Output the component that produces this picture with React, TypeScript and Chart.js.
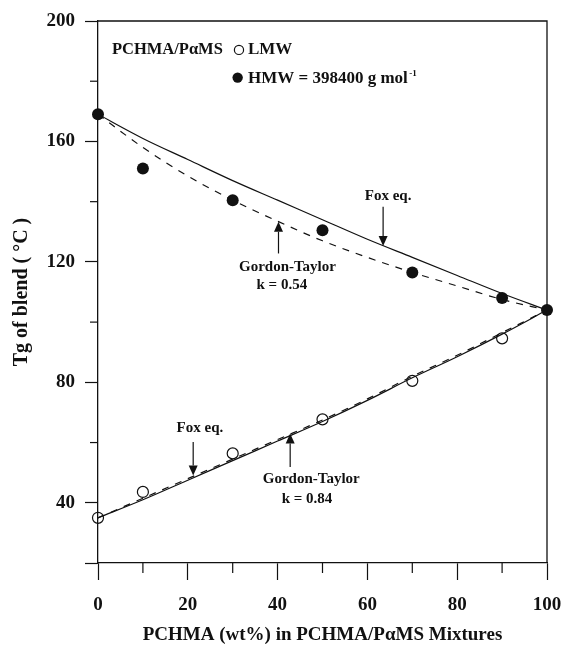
import React, { useEffect, useRef } from "react";
import { Chart, registerables } from "chart.js";

Chart.register(...registerables);

const SERIF = "'Liberation Serif', 'Times New Roman', serif";
const INK = "#111111";

// ---- measured Tg values (wt% PCHMA vs Tg, °C) ----
const compHMW = [0, 10, 30, 50, 70, 90, 100];
const tgHMW = [169, 151, 140.5, 130.5, 116.5, 108, 104];
const compLMW = [0, 10, 30, 50, 70, 90];
const tgLMW = [35, 43.6, 56.4, 67.7, 80.5, 94.6];

// ---- model curves ----
const curveComp = [0, 10, 20, 30, 40, 50, 60, 70, 80, 90, 100];
const foxHMW = [169, 161, 154, 147, 140.5, 134, 127.5, 121.5, 115.5, 109.5, 104];
const gtHMW = [169, 158, 148.5, 140.5, 133.5, 127, 121.5, 116.5, 112, 107.5, 104];
const foxLMW = [35, 41, 47.5, 54, 60.5, 67, 74, 81.5, 88.5, 96, 104];
const gtLMW = [35, 41.5, 48, 54.5, 61, 67.5, 74.5, 82, 89, 96.5, 104];

// ---- axes ----
const xMin = 0;
const xMax = 100;
const xMajor = 20;
const xMinor = 10;
const yMin = 20;
const yMax = 200;
const yMajor = 40;
const yMinor = 20;

const xTitle = "PCHMA (wt%) in PCHMA/P\u03B1MS Mixtures";
const yTitle = "Tg of blend ( \u00B0C )";

// ---- in-plot annotations (data coordinates) ----
const labels = [
  { text: "Fox eq.", x: 64.6, y: 140.5, align: "center" as CanvasTextAlign },
  { text: "Gordon-Taylor", x: 31.4, y: 117.0, align: "left" as CanvasTextAlign },
  { text: "k = 0.54", x: 35.3, y: 111.0, align: "left" as CanvasTextAlign },
  { text: "Fox eq.", x: 17.5, y: 63.5, align: "left" as CanvasTextAlign },
  { text: "Gordon-Taylor", x: 36.7, y: 46.5, align: "left" as CanvasTextAlign },
  { text: "k = 0.84", x: 40.9, y: 39.9, align: "left" as CanvasTextAlign },
];
const arrows = [
  { x: 63.5, from: 138.3, to: 125.3 },
  { x: 40.2, from: 122.8, to: 133.3 },
  { x: 21.2, from: 60.2, to: 49.1 },
  { x: 42.8, from: 51.9, to: 63.0 },
];
const keyTitle = { text: "PCHMA/P\u03B1MS", x: 3.1, y: 189.0 };
const keyRows = [
  { filled: false, text: "LMW", sup: "", cx: 31.4, cy: 190.4, tx: 33.4, ty: 189.0 },
  { filled: true, text: "HMW = 398400 g mol", sup: "-1", cx: 31.1, cy: 181.2, tx: 33.4, ty: 179.3 },
];

const pts = (xs: number[], ys: number[]) => xs.map((x, i) => ({ x, y: ys[i] }));

const decor = {
  id: "decor",
  beforeDatasetsDraw(chart: any) {
    const { ctx, chartArea: a, scales } = chart;
    const x = scales.x;
    const y = scales.y;
    ctx.save();
    ctx.strokeStyle = INK;
    ctx.lineWidth = 1.3;
    ctx.beginPath();
    ctx.moveTo(a.left, a.top);
    ctx.lineTo(a.right, a.top);
    ctx.lineTo(a.right, a.bottom);
    ctx.stroke();
    ctx.lineWidth = 1.2;
    for (let v = xMin + xMinor; v < xMax; v += xMajor) {
      const px = x.getPixelForValue(v);
      ctx.beginPath();
      ctx.moveTo(px, a.bottom);
      ctx.lineTo(px, a.bottom + 10);
      ctx.stroke();
    }
    for (let v = yMin + yMinor * 2; v < yMax; v += yMajor) {
      const py = y.getPixelForValue(v);
      ctx.beginPath();
      ctx.moveTo(a.left - 8, py);
      ctx.lineTo(a.left, py);
      ctx.stroke();
    }
    ctx.restore();
  },
  afterDatasetsDraw(chart: any) {
    const { ctx, scales } = chart;
    const x = scales.x;
    const y = scales.y;
    ctx.save();
    ctx.fillStyle = INK;
    ctx.strokeStyle = INK;
    ctx.textBaseline = "alphabetic";
    // key
    ctx.font = `bold 16.5px ${SERIF}`;
    ctx.textAlign = "left";
    ctx.fillText(keyTitle.text, x.getPixelForValue(keyTitle.x), y.getPixelForValue(keyTitle.y));
    keyRows.forEach((r) => {
      const cx = x.getPixelForValue(r.cx);
      const cy = y.getPixelForValue(r.cy);
      ctx.beginPath();
      ctx.arc(cx, cy, r.filled ? 5.2 : 4.6, 0, Math.PI * 2);
      ctx.lineWidth = 1.2;
      if (r.filled) ctx.fill();
      else ctx.stroke();
      ctx.font = `bold 17px ${SERIF}`;
      const tx = x.getPixelForValue(r.tx);
      const ty = y.getPixelForValue(r.ty);
      ctx.fillText(r.text, tx, ty);
      if (r.sup) {
        const w = ctx.measureText(r.text).width;
        ctx.font = `bold 9px ${SERIF}`;
        ctx.fillText(r.sup, tx + w + 1.5, ty - 7);
      }
    });
    // labels
    ctx.font = `bold 15px ${SERIF}`;
    labels.forEach((l) => {
      ctx.textAlign = l.align;
      ctx.fillText(l.text, x.getPixelForValue(l.x), y.getPixelForValue(l.y));
    });
    // arrows
    arrows.forEach((ar) => {
      const px = x.getPixelForValue(ar.x);
      const p0 = y.getPixelForValue(ar.from);
      const p1 = y.getPixelForValue(ar.to);
      const dir = p1 > p0 ? 1 : -1;
      const head = 10;
      ctx.lineWidth = 1.2;
      ctx.beginPath();
      ctx.moveTo(px, p0);
      ctx.lineTo(px, p1 - dir * head);
      ctx.stroke();
      ctx.beginPath();
      ctx.moveTo(px, p1);
      ctx.lineTo(px - 4.5, p1 - dir * head);
      ctx.lineTo(px + 4.5, p1 - dir * head);
      ctx.closePath();
      ctx.fill();
    });
    ctx.restore();
  },
};

export default function App() {
  const ref = useRef<HTMLCanvasElement | null>(null);

  useEffect(() => {
    if (!ref.current) return;
    const lineDs = (label: string, ys: number[], dash: number[], order: number) => ({
      type: "line" as const,
      label,
      data: pts(curveComp, ys),
      borderColor: INK,
      borderWidth: 1.2,
      borderDash: dash,
      pointRadius: 0,
      fill: false,
      cubicInterpolationMode: "monotone" as const,
      clip: false as any,
      order,
    });
    const chart = new Chart(ref.current, {
      type: "scatter",
      data: {
        datasets: [
          {
            label: "HMW",
            data: pts(compHMW, tgHMW),
            pointRadius: 6,
            pointBackgroundColor: INK,
            pointBorderColor: INK,
            pointBorderWidth: 0,
            showLine: false,
            clip: false as any,
            order: 0,
          },
          {
            label: "LMW",
            data: pts(compLMW, tgLMW),
            pointRadius: 5.5,
            pointBackgroundColor: "rgba(0,0,0,0)",
            pointBorderColor: INK,
            pointBorderWidth: 1.2,
            showLine: false,
            clip: false as any,
            order: 1,
          },
          lineDs("Fox eq. (HMW)", foxHMW, [], 2),
          lineDs("Gordon-Taylor k = 0.54", gtHMW, [7, 7], 3),
          lineDs("Fox eq. (LMW)", foxLMW, [], 4),
          lineDs("Gordon-Taylor k = 0.84", gtLMW, [7, 7], 5),
        ] as any,
      },
      options: {
        animation: false,
        responsive: false,
        devicePixelRatio: 1,
        layout: { autoPadding: false, padding: { top: 21, right: 15, left: 0, bottom: 0 } },
        plugins: { legend: { display: false }, tooltip: { enabled: false } },
        scales: {
          x: {
            type: "linear",
            min: xMin,
            max: xMax,
            afterFit: (s: any) => {
              s.height = 82;
              s.paddingLeft = 0;
              s.paddingRight = 0;
            },
            ticks: {
              stepSize: xMinor,
              autoSkip: false,
              maxRotation: 0,
              padding: 15.5,
              color: INK,
              font: { family: SERIF, size: 19, weight: "bold", lineHeight: 1 },
              callback: (v: any) => (Number(v) % xMajor === 0 ? String(v) : ""),
            },
            grid: {
              drawOnChartArea: false,
              drawTicks: true,
              tickLength: 17,
              tickWidth: 1.2,
              tickColor: (c: any) => (c.tick && c.tick.value % xMajor === 0 ? INK : "rgba(0,0,0,0)"),
            },
            border: { display: true, color: INK, width: 1.3 },
            title: {
              display: true,
              text: xTitle,
              color: INK,
              font: { family: SERIF, size: 19, weight: "bold", lineHeight: 1 },
              padding: { top: 0, bottom: 0 },
            },
          },
          y: {
            type: "linear",
            min: yMin,
            max: yMax,
            afterFit: (s: any) => {
              s.width = 98;
              s.paddingTop = 0;
              s.paddingBottom = 0;
            },
            ticks: {
              stepSize: yMinor,
              autoSkip: false,
              padding: 10,
              color: INK,
              font: { family: SERIF, size: 19, weight: "bold" },
              callback: (v: any) => (Number(v) % yMajor === 0 ? String(v) : ""),
            },
            grid: {
              drawOnChartArea: false,
              drawTicks: true,
              tickLength: 13,
              tickWidth: 1.2,
              tickColor: (c: any) =>
                c.tick && (c.tick.value % yMajor === 0 || c.tick.value === yMin) ? INK : "rgba(0,0,0,0)",
            },
            border: { display: true, color: INK, width: 1.3 },
            title: {
              display: true,
              text: yTitle,
              color: INK,
              font: { family: SERIF, size: 20, weight: "bold", lineHeight: 1.2 },
              padding: { top: 10, bottom: 0 },
            },
          },
        },
      } as any,
      plugins: [decor],
    });
    return () => chart.destroy();
  }, []);

  return (
    <div style={{ position: "absolute", left: 0, top: 0, width: 562, height: 645, background: "#fff" }}>
      <canvas ref={ref} width={562} height={645} style={{ display: "block", width: 562, height: 645 }} />
    </div>
  );
}
